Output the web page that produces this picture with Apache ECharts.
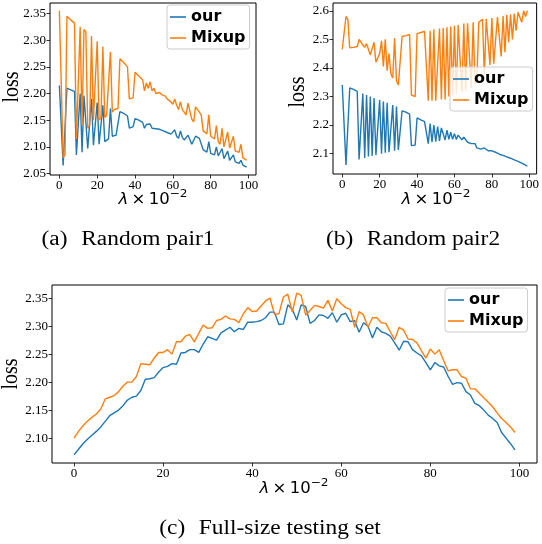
<!DOCTYPE html>
<html><head><meta charset="utf-8">
<script src="https://cdn.jsdelivr.net/npm/echarts@6/dist/echarts.min.js"></script>
<style>html,body{margin:0;padding:0;background:#fff;}#c{width:542px;height:544px;}</style>
</head><body><div id="c"></div>
<script>
const xs = [0,1,2,3,4,5,6,7,8,9,10,11,12,13,14,15,16,17,18,19,20,21,22,23,24,25,26,27,28,29,30,31,32,33,34,35,36,37,38,39,40,41,42,43,44,45,46,47,48,49,50,51,52,53,54,55,56,57,58,59,60,61,62,63,64,65,66,67,68,69,70,71,72,73,74,75,76,77,78,79,80,81,82,83,84,85,86,87,88,89,90,91,92,93,94,95,96,97,98,99];
const xTicks = [0,20,40,60,80,100];

// (a) Random pair1
const ourA = [2.215,2.214,2.065,2.068,2.21,2.209,2.207,2.205,2.204,2.085,2.088,2.2,2.09,2.196,2.195,2.097,2.1,2.19,2.103,2.102,2.183,2.105,2.108,2.178,2.11,2.112,2.115,2.172,2.12,2.12,2.122,2.124,2.166,2.165,2.163,2.16,2.158,2.135,2.135,2.138,2.153,2.152,2.15,2.148,2.146,2.135,2.142,2.14,2.143,2.135,2.137,2.134,2.133,2.133,2.132,2.13,2.129,2.127,2.126,2.124,2.122,2.132,2.12,2.116,2.13,2.118,2.113,2.11,2.122,2.12,2.105,2.102,2.12,2.118,2.116,2.113,2.095,2.093,2.09,2.11,2.088,2.087,2.085,2.1,2.083,2.08,2.097,2.078,2.077,2.092,2.075,2.073,2.085,2.072,2.07,2.069,2.075,2.066,2.065,2.062];
const mixA = [2.355,2.352,2.08,2.085,2.345,2.342,2.338,2.335,2.332,2.115,2.118,2.325,2.14,2.32,2.316,2.135,2.14,2.308,2.15,2.148,2.298,2.15,2.155,2.288,2.155,2.16,2.16,2.278,2.165,2.17,2.17,2.172,2.265,2.262,2.258,2.255,2.25,2.19,2.188,2.192,2.24,2.237,2.233,2.23,2.226,2.205,2.22,2.21,2.222,2.205,2.21,2.2,2.2,2.202,2.198,2.197,2.195,2.19,2.187,2.184,2.18,2.19,2.178,2.17,2.185,2.17,2.165,2.16,2.182,2.182,2.152,2.147,2.175,2.17,2.165,2.16,2.13,2.128,2.125,2.16,2.12,2.12,2.115,2.14,2.11,2.105,2.135,2.1,2.1,2.128,2.098,2.095,2.12,2.092,2.092,2.09,2.105,2.08,2.08,2.075];
const yTicksA = [2.05,2.10,2.15,2.20,2.25,2.30,2.35];

// (b) Random pair2
const ourB = [2.34,2.338,2.06,2.062,2.33,2.328,2.325,2.322,2.318,2.08,2.082,2.31,2.085,2.305,2.09,2.3,2.092,2.295,2.095,2.098,2.288,2.1,2.282,2.103,2.278,2.105,2.108,2.27,2.11,2.265,2.113,2.115,2.25,2.248,2.245,2.242,2.238,2.128,2.128,2.13,2.225,2.222,2.218,2.215,2.212,2.208,2.135,2.205,2.14,2.2,2.142,2.195,2.145,2.19,2.188,2.148,2.182,2.15,2.175,2.15,2.17,2.15,2.165,2.16,2.148,2.158,2.155,2.14,2.138,2.135,2.14,2.135,2.12,2.118,2.116,2.114,2.12,2.118,2.11,2.108,2.11,2.104,2.105,2.1,2.098,2.096,2.094,2.091,2.089,2.086,2.084,2.081,2.078,2.076,2.073,2.07,2.067,2.064,2.06,2.056];
const mixB = [2.465,2.467,2.58,2.57,2.47,2.472,2.472,2.474,2.475,2.5,2.49,2.48,2.472,2.485,2.485,2.445,2.44,2.49,2.42,2.415,2.45,2.495,2.405,2.5,2.39,2.45,2.38,2.365,2.505,2.355,2.34,2.335,2.51,2.512,2.513,2.515,2.517,2.305,2.302,2.3,2.52,2.522,2.524,2.526,2.528,2.53,2.285,2.53,2.285,2.535,2.285,2.285,2.538,2.29,2.54,2.29,2.542,2.3,2.545,2.305,2.548,2.31,2.55,2.552,2.315,2.555,2.32,2.556,2.558,2.33,2.56,2.345,2.36,2.56,2.565,2.57,2.37,2.572,2.575,2.41,2.575,2.415,2.42,2.578,2.58,2.44,2.582,2.455,2.585,2.49,2.588,2.5,2.59,2.53,2.595,2.595,2.56,2.6,2.58,2.6];
const yTicksB = [2.1,2.2,2.3,2.4,2.5,2.6];

// (c) Full-size testing set
const ourC = [2.07,2.08,2.09,2.098,2.105,2.112,2.12,2.13,2.14,2.145,2.15,2.158,2.168,2.173,2.175,2.185,2.205,2.206,2.208,2.218,2.226,2.228,2.233,2.232,2.252,2.253,2.258,2.258,2.253,2.268,2.281,2.278,2.275,2.288,2.293,2.298,2.29,2.296,2.294,2.307,2.307,2.308,2.31,2.315,2.325,2.325,2.303,2.304,2.338,2.33,2.311,2.338,2.335,2.305,2.31,2.32,2.319,2.314,2.324,2.307,2.32,2.323,2.308,2.31,2.289,2.306,2.3,2.279,2.298,2.29,2.287,2.282,2.27,2.257,2.273,2.272,2.258,2.252,2.247,2.235,2.222,2.235,2.229,2.227,2.21,2.196,2.199,2.198,2.183,2.177,2.162,2.158,2.15,2.141,2.135,2.128,2.11,2.1,2.09,2.079];
const mixC = [2.1,2.112,2.122,2.13,2.137,2.143,2.152,2.17,2.173,2.176,2.183,2.193,2.2,2.2,2.21,2.233,2.232,2.231,2.243,2.253,2.253,2.258,2.25,2.272,2.272,2.282,2.285,2.272,2.287,2.302,2.296,2.297,2.31,2.312,2.318,2.313,2.312,2.306,2.322,2.333,2.326,2.327,2.336,2.345,2.35,2.321,2.322,2.352,2.357,2.325,2.359,2.355,2.32,2.328,2.337,2.335,2.332,2.346,2.327,2.349,2.34,2.333,2.33,2.298,2.326,2.32,2.298,2.315,2.315,2.306,2.305,2.29,2.276,2.298,2.293,2.277,2.276,2.27,2.256,2.243,2.259,2.25,2.258,2.238,2.22,2.222,2.222,2.21,2.207,2.188,2.188,2.18,2.172,2.164,2.156,2.145,2.135,2.128,2.12,2.11];
const yTicksC = [2.10,2.15,2.20,2.25,2.30,2.35];

const seriesNames = ['our','Mixup'];
const colors = ['#1f77b4','#ff7f0e'];

function pairs(vals){ return vals.map((v,i)=>[xs[i], v]); }
function padRange(arrs){
  let lo = Infinity, hi = -Infinity;
  arrs.forEach(a=>a.forEach(v=>{ if(v<lo) lo=v; if(v>hi) hi=v; }));
  const m = (hi-lo)*0.05; return [lo-m, hi+m];
}
const xr = padRange([xs]);
const SERIF = '"Liberation Serif", "Times New Roman", serif';
const SANS = '"DejaVu Sans", sans-serif';

function xAxis(gi){
  return { type:'value', gridIndex:gi, min:xr[0], max:xr[1],
    splitLine:{show:false}, axisLine:{show:false, onZero:false},
    axisTick:{show:true, length:3.5, lineStyle:{color:'#000', width:0.8}, customValues:xTicks},
    axisLabel:{color:'#000', fontFamily:SERIF, fontSize:13, margin:4, customValues:xTicks, formatter:v=>String(Math.round(v))} };
}
function yAxis(gi, ticks, dec, arrs){
  const r = padRange(arrs);
  return { type:'value', gridIndex:gi, min:r[0], max:r[1], scale:true,
    splitLine:{show:false}, axisLine:{show:false, onZero:false},
    axisTick:{show:true, length:3.5, lineStyle:{color:'#000', width:0.8}, customValues:ticks},
    axisLabel:{color:'#000', fontFamily:SERIF, fontSize:13, margin:4, customValues:ticks, formatter:v=>v.toFixed(dec)} };
}
function lineSeries(name, vals, gi, ci){
  return { type:'line', name:name, xAxisIndex:gi, yAxisIndex:gi, data:pairs(vals),
    showSymbol:false, symbol:'none', animation:false,
    lineStyle:{width:1.4, color:colors[ci]}, itemStyle:{color:colors[ci]} };
}
function legend(left, top){
  return { left:left, top:top, orient:'vertical', data:seriesNames, selectedMode:false,
    icon:'rect', itemWidth:16, itemHeight:1.6, itemGap:5, padding:[4,4,3,3],
    backgroundColor:'rgba(255,255,255,0.8)', borderColor:'#cccccc', borderWidth:1, borderRadius:3,
    textStyle:{fontFamily:SANS, fontWeight:'bold', fontSize:16, color:'#000'} };
}
function txt(x, y, text, font, opts){
  opts = opts || {};
  const o = { type:'text', x:x, y:y, rotation:opts.rot||0, scaleX:opts.sx||1, scaleY:opts.sy||1, z:10,
    style:{ text:text, font:font, fill:'#000', align:'center', verticalAlign:'middle' } };
  if (opts.rich) o.style.rich = opts.rich;
  return o;
}
const lamRich = {
  i:{fontStyle:'italic', fontFamily:SANS, fontSize:15, lineHeight:22, verticalAlign:'middle', fill:'#000'},
  n:{fontFamily:SANS, fontSize:15, lineHeight:22, verticalAlign:'middle', fill:'#000'},
  s:{fontFamily:SANS, fontSize:11, lineHeight:11, verticalAlign:'top', fill:'#000'}
};
const lamText = '{i|λ}{n|\u2009×\u200910}{s|−2}';
const GAP = '\u2002\u200a';

const option = {
  animation:false,
  backgroundColor:'#fff',
  grid:[
    {left:50, top:3, width:206, height:172, show:true, borderColor:'#000', borderWidth:1, backgroundColor:'transparent'},
    {left:333, top:3, width:206, height:171, show:true, borderColor:'#000', borderWidth:1, backgroundColor:'transparent'},
    {left:52, top:285, width:485, height:178, show:true, borderColor:'#000', borderWidth:1, backgroundColor:'transparent'}
  ],
  xAxis:[xAxis(0), xAxis(1), xAxis(2)],
  yAxis:[
    yAxis(0, yTicksA, 2, [ourA, mixA]),
    yAxis(1, yTicksB, 1, [ourB, mixB]),
    yAxis(2, yTicksC, 2, [ourC, mixC])
  ],
  legend:[legend(167,5), legend(450,67), legend(445,288)],
  series:[
    lineSeries('our', ourA, 0, 0), lineSeries('Mixup', mixA, 0, 1),
    lineSeries('our', ourB, 1, 0), lineSeries('Mixup', mixB, 1, 1),
    lineSeries('our', ourC, 2, 0), lineSeries('Mixup', mixC, 2, 1)
  ],
  graphic:[
    txt(12, 87, 'loss', '20px "Liberation Serif"', {rot:Math.PI/2, sy:1.15}),
    txt(298, 92, 'loss', '20px "Liberation Serif"', {rot:Math.PI/2, sy:1.15}),
    txt(11, 374, 'loss', '20px "Liberation Serif"', {rot:Math.PI/2, sy:1.15}),
    txt(153, 200, lamText, '15px "DejaVu Sans"', {rich:lamRich, sx:1.1}),
    txt(436, 200, lamText, '15px "DejaVu Sans"', {rich:lamRich, sx:1.1}),
    txt(294, 489, lamText, '15px "DejaVu Sans"', {rich:lamRich, sx:1.1}),
    txt(128, 240, '(a)' + GAP + 'Random pair1', '20px "Liberation Serif"', {sx:1.17}),
    txt(413, 240, '(b)' + GAP + 'Random pair2', '20px "Liberation Serif"', {sx:1.17}),
    txt(270, 529, '(c)' + GAP + 'Full-size testing set', '20px "Liberation Serif"', {sx:1.17})
  ]
};
const chart = echarts.init(document.getElementById('c'), null, {renderer:'canvas'});
chart.setOption(option);
</script>
</body></html>
